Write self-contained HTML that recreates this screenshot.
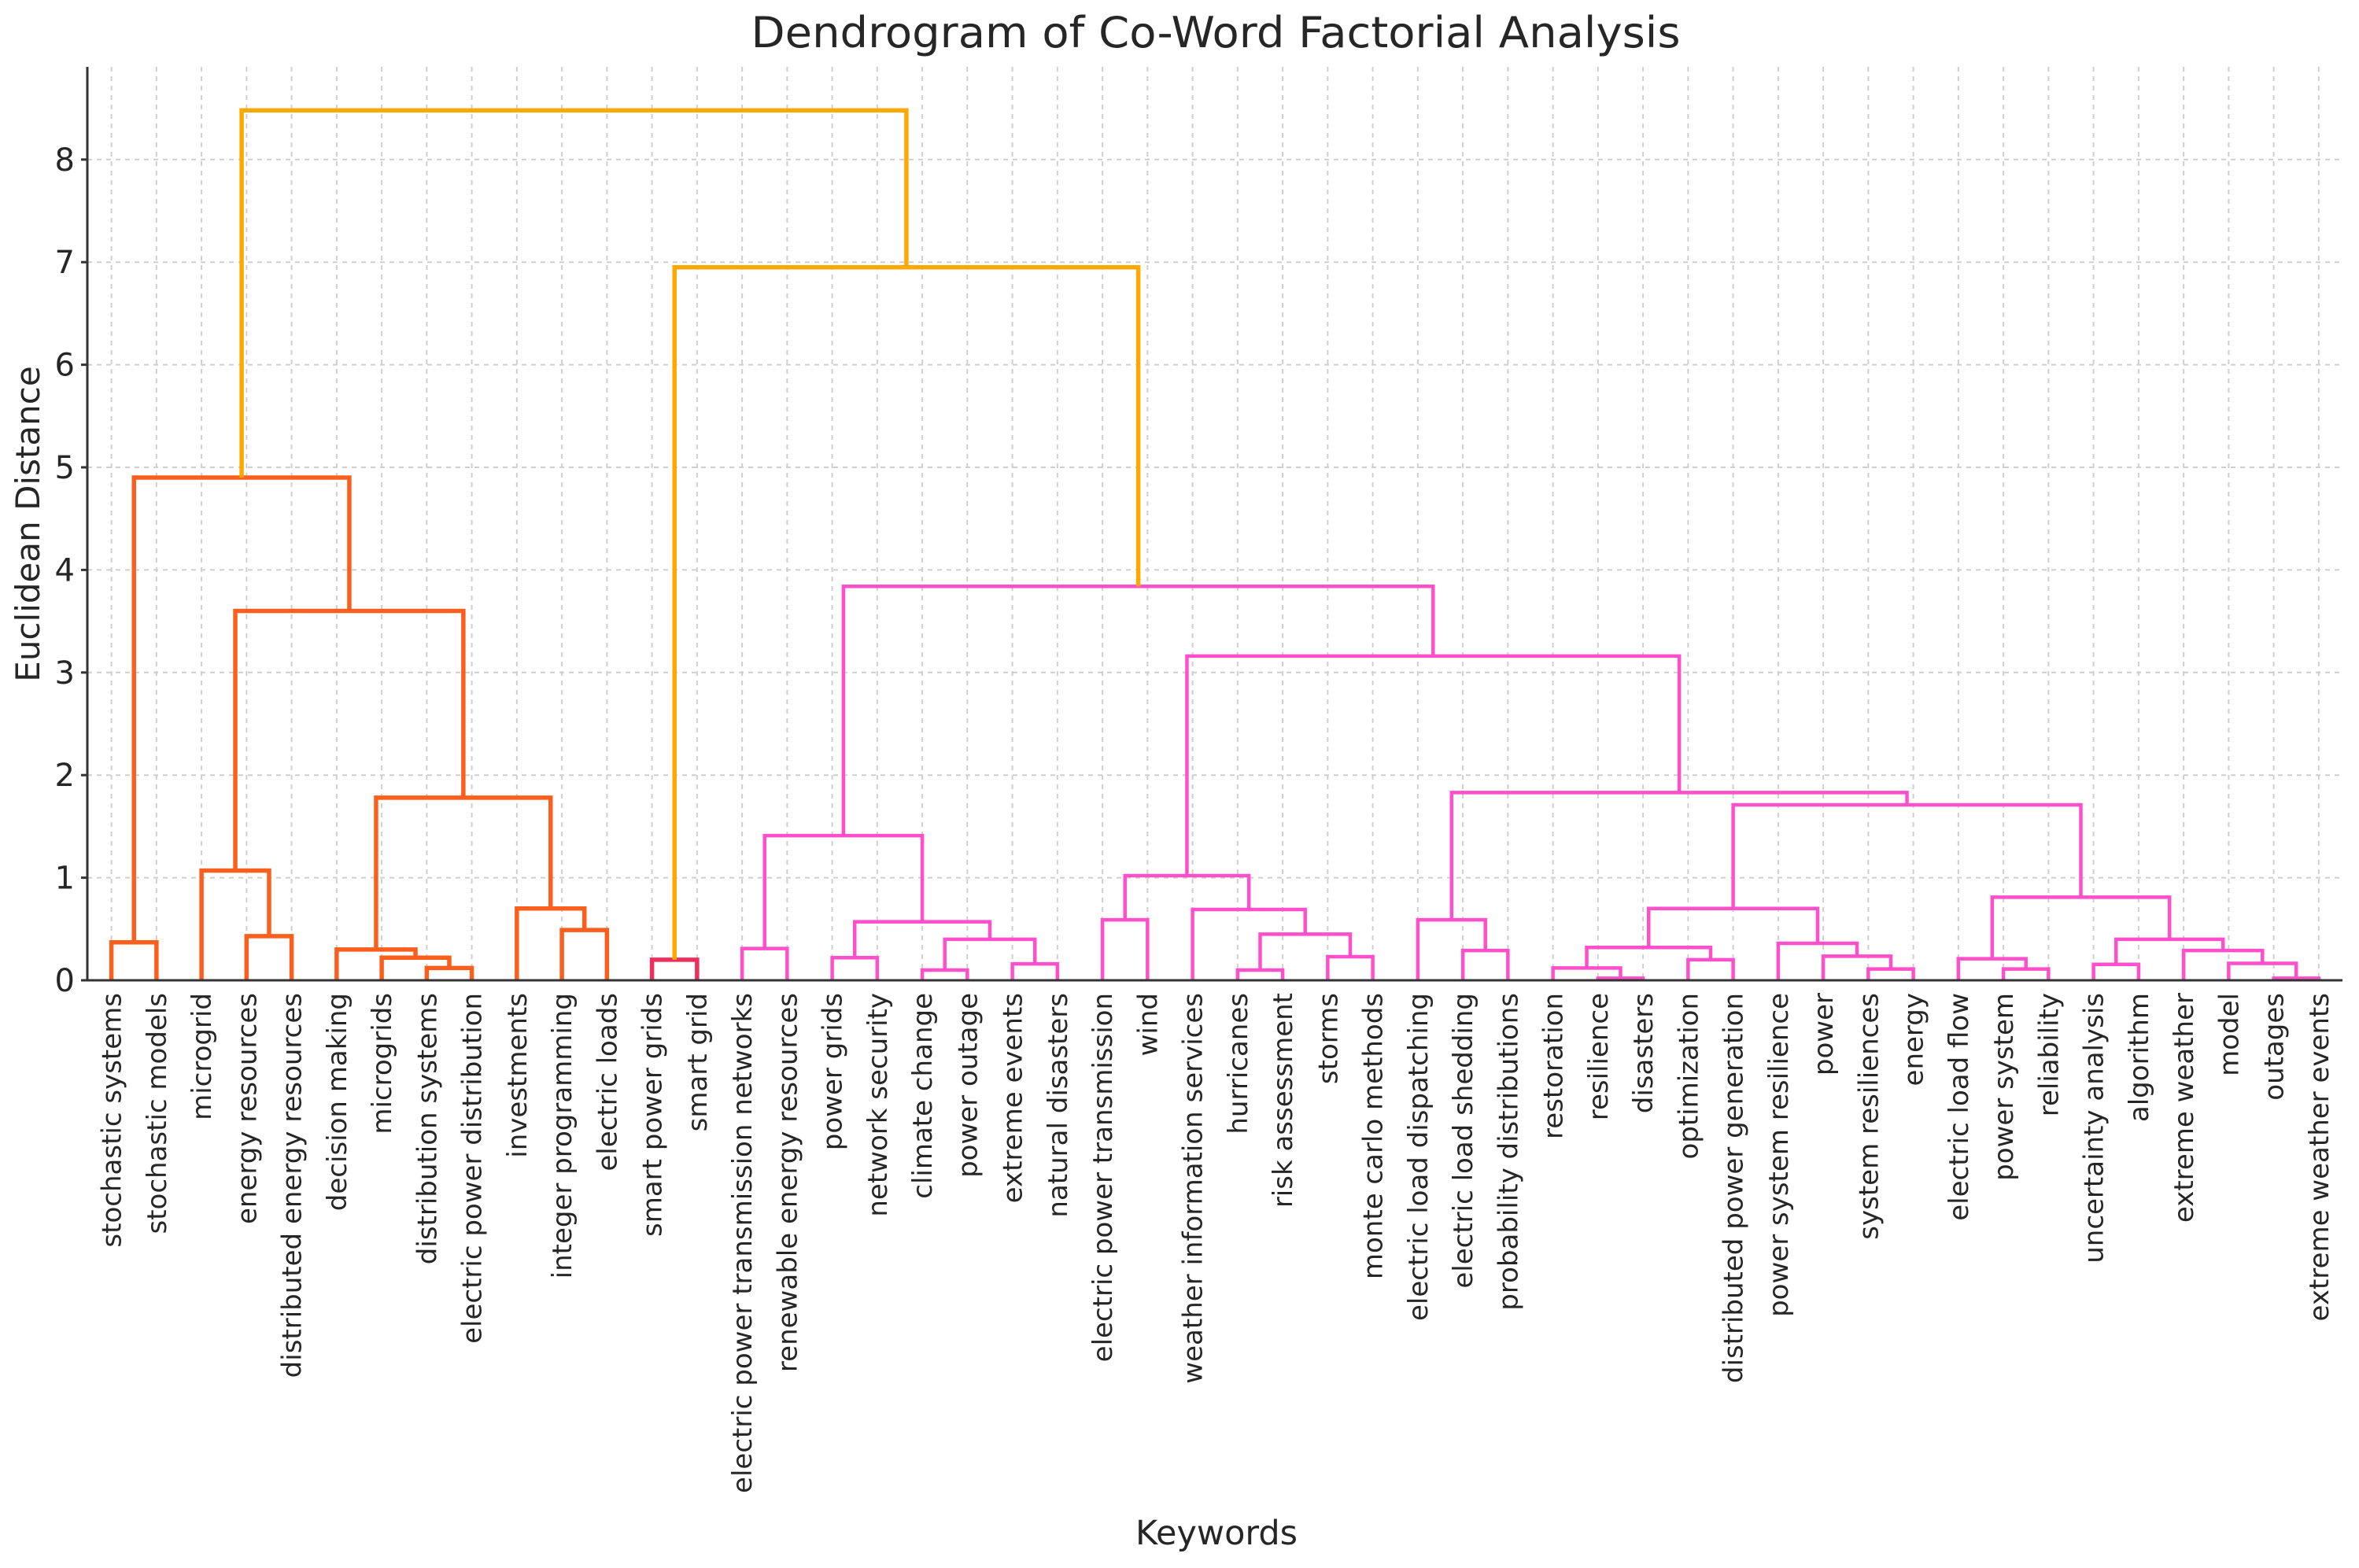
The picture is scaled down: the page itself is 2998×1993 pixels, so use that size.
<!DOCTYPE html>
<html><head><meta charset="utf-8"><title>Dendrogram of Co-Word Factorial Analysis</title>
<style>html,body{margin:0;padding:0;background:#fff}svg{display:block}text{font-family:"DejaVu Sans","Liberation Sans",sans-serif;fill:#262626}</style>
</head><body>
<svg id="chart" xmlns="http://www.w3.org/2000/svg" width="2998" height="1993" viewBox="0 0 2998 1993">
<rect width="2998" height="1993" fill="#fff"/>
<g id="grid"></g>
<g id="links"></g>
<g id="axes"></g>
<text x="1545" y="60" font-size="54" text-anchor="middle" textLength="1181" lengthAdjust="spacingAndGlyphs">Dendrogram of Co-Word Factorial Analysis</text>
<text x="1546" y="1963" font-size="43" text-anchor="middle">Keywords</text>
<text transform="translate(50,666) rotate(-90)" font-size="42" text-anchor="middle">Euclidean Distance</text>
</svg>
<script>
const leaves = ["stochastic systems","stochastic models","microgrid","energy resources","distributed energy resources","decision making","microgrids","distribution systems","electric power distribution","investments","integer programming","electric loads","smart power grids","smart grid","electric power transmission networks","renewable energy resources","power grids","network security","climate change","power outage","extreme events","natural disasters","electric power transmission","wind","weather information services","hurricanes","risk assessment","storms","monte carlo methods","electric load dispatching","electric load shedding","probability distributions","restoration","resilience","disasters","optimization","distributed power generation","power system resilience","power","system resiliences","energy","electric load flow","power system","reliability","uncertainty analysis","algorithm","extreme weather","model","outages","extreme weather events"];
const mergeLeft  = [7,6,5,10,9,52,3,2,57,0,59,12,14,16,18,20,64,63,62,22,25,27,70,24,69,30,29,33,32,35,78,39,38,37,80,42,41,44,48,47,46,87,86,84,76,74,68,61,60];
const mergeRight = [8,50,51,11,53,54,4,56,55,1,58,13,15,17,19,21,65,66,67,23,26,28,71,72,73,31,75,34,77,36,79,40,81,82,83,43,85,45,49,88,89,90,91,92,93,94,95,96,97];
const mergeHeight= [0.12,0.22,0.30,0.49,0.70,1.78,0.43,1.07,3.6,0.37,4.9,0.20,0.31,0.22,0.10,0.16,0.40,0.57,1.41,0.59,0.10,0.23,0.45,0.69,1.02,0.29,0.59,0.02,0.12,0.20,0.32,0.11,0.235,0.36,0.70,0.11,0.21,0.155,0.02,0.165,0.29,0.40,0.81,1.71,1.83,3.16,3.84,6.95,8.48];
const mergeGroup = ["o","o","o","o","o","o","o","o","o","o","o","r","p","p","p","p","p","p","p","p","p","p","p","p","p","p","p","p","p","p","p","p","p","p","p","p","p","p","p","p","p","p","p","p","p","p","p","y","y"];
const yTicks = [0,1,2,3,4,5,6,7,8];

const NS="http://www.w3.org/2000/svg";
const X0=141.6, DX=57.25, Y0=1246, PU=130.4, LEFT=111, RIGHT=2977, TOP=85;
const xLeaf=i=>X0+DX*i;
const yVal=v=>Y0-v*PU;
const colors={o:"#fb5f1e",r:"#ee2f5c",p:"#ff4fcb",y:"#ffa800"};
function mk(tag,attrs,parent){const e=document.createElementNS(NS,tag);for(const k in attrs)e.setAttribute(k,attrs[k]);parent.appendChild(e);return e;}
const grid=document.getElementById('grid'),links=document.getElementById('links'),axes=document.getElementById('axes');
leaves.forEach((l,i)=>{const g=mk('line',{x1:xLeaf(i),x2:xLeaf(i),y1:TOP,y2:Y0,stroke:'#cfcfcf','stroke-width':2,'stroke-dasharray':'6,6'},grid);

});
yTicks.forEach(t=>{const g=mk('line',{x1:LEFT,x2:RIGHT,y1:yVal(t),y2:yVal(t),stroke:'#cfcfcf','stroke-width':2,'stroke-dasharray':'6,6'},grid);

});
const nodeX=[],nodeH=[];
leaves.forEach((l,i)=>{nodeX[i]=xLeaf(i);nodeH[i]=0;});
mergeLeft.forEach((a,k)=>{
 const b=mergeRight[k],h=mergeHeight[k],id=50+k;
 const xa=nodeX[a],xb=nodeX[b],ya=yVal(nodeH[a]),yb=yVal(nodeH[b]),yh=yVal(h);
 const p=mk('path',{d:`M${xa},${ya}V${yh}H${xb}V${yb}`,fill:'none',stroke:colors[mergeGroup[k]],'stroke-width':mergeGroup[k]==='p'?4.5:5.5},links);
 
 
 nodeX[id]=(xa+xb)/2;nodeH[id]=h;
});
const sp1=mk('line',{x1:LEFT,x2:LEFT,y1:TOP,y2:Y0+1,stroke:'#333','stroke-width':3},axes);


const sp2=mk('line',{x1:LEFT-1,x2:RIGHT,y1:Y0,y2:Y0,stroke:'#333','stroke-width':3},axes);


yTicks.forEach(t=>{
 const tk=mk('line',{x1:LEFT-8,x2:LEFT,y1:yVal(t),y2:yVal(t),stroke:'#333','stroke-width':3},axes);
 
 
 const tx=mk('text',{x:LEFT-16,y:yVal(t)+14,'font-size':40,'text-anchor':'end'},axes);
 tx.textContent=t;
 
 
});
leaves.forEach((l,i)=>{
 const tx=mk('text',{transform:`translate(${xLeaf(i)+12},${Y0+16}) rotate(-90)`,'font-size':34,'text-anchor':'end'},axes);
 tx.textContent=l;
 
 
});
</script>
</body></html>
